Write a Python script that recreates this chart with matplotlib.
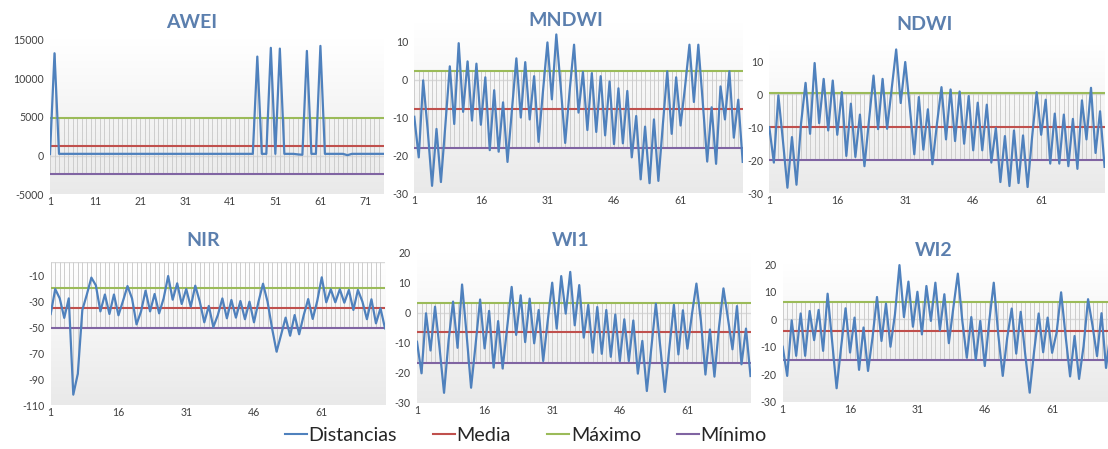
import numpy as np
import matplotlib
matplotlib.use("Agg")
import matplotlib.pyplot as plt
from matplotlib.lines import Line2D

plt.rcParams['font.family'] = ['Lato', 'DejaVu Sans']
plt.rcParams['axes.unicode_minus'] = False

W, H, DPI = 1108, 449, 100

# ---------------------------------------------------------------- data
muestras = np.arange(1, 76)

awei = [200, 13200] + [220] * 44 + [12770, 220, 220, 13900, 220, 13800, 220, 220, 220,
        150, 100, 13500, 220, 220, 14150, 220, 220, 220, 220, 220, 50, 220, 220, 220,
        220, 220, 220, 220, 220]
awei_media, awei_max, awei_min = 1250, 4900, -2360

mndwi = [-9.8, -20.5, -0.2, -13, -28, -13, -27, -12, 3.5, -11.7, 9.6, -8.5, 4.8, -10.8,
         4.2, -11.9, 0.6, -18.6, -2.8, -19, -6, -21.7, -8, 5.6, -10, 4.6, -10.5, 0.9,
         -16.4, -3, 9.8, -5.2, 11.9, -2, -16.7, -3, 9.2, -8.7, 2, -13.3, 1.7, -13.8, 0.9,
         -14.7, -0.5, -17, -2.3, -16.8, -3, -20.5, -9.6, -26.3, -12.4, -27.3, -10.5, -26.7,
         -12, 2.2, -14.3, 0.6, -12.1, -2, 9.2, -5.9, 9.2, -6, -21.6, -7.3, -22.2, -1.8,
         -10.5, 2.2, -15.3, -5.3, -21.7]
mndwi_media, mndwi_max, mndwi_min = -7.8, 2.3, -18.0

ndwi = [-10, -20.7, -0.4, -14, -28.3, -13, -27.4, -9, 3.4, -12, 9.4, -8.8, 4.6, -11, 4.1,
        -12.3, 0.6, -18.7, -2.9, -19, -6.2, -21.8, -8, 5.6, -10.6, 4.6, -10.5, 1.5, 13.5,
        -2.7, 9.7, -4, -18.2, -0.9, -16.8, -4.6, -21.2, -9, 2.1, -13.7, 1.4, -14.2, 0.8,
        -15, -0.6, -17, -2.6, -17, -3.2, -20.7, -10.3, -26.6, -12.7, -27.8, -11, -26.9,
        -12.5, -28.1, -13, 0.6, -12.3, -1.7, -21, -5.9, -21, -6.2, -21.8, -7.5, -22.6,
        -1.9, -13.7, 1.9, -17.8, -5.2, -22]
ndwi_media, ndwi_max, ndwi_min = -9.8, 0.2, -20.0

nir = [-40, -20.8, -28, -43, -28, -102, -86, -37, -25, -12, -18, -38, -25, -40, -25, -41,
       -30, -18.5, -28, -48, -38, -22, -38, -24.6, -39.5, -28, -10.8, -29, -16.4, -32.3,
       -20.8, -34.4, -18.2, -30.5, -46.4, -33.8, -50, -40.8, -28, -43.3, -29.2, -42.8, -30,
       -44, -30.5, -46.4, -30.5, -16.7, -30.5, -51, -69, -56, -42.8, -56.7, -40.8, -55.6,
       -41, -28.5, -43.8, -30, -11.8, -31, -21, -31, -21, -31.3, -21.5, -36.9, -21.5,
       -30.5, -44, -28.7, -47.2, -35.6, -51]
nir_media, nir_max, nir_min = -35.1, -19.7, -50.5

wi1 = [-9.7, -20.2, -0.2, -12.6, 2, -11.7, -26.7, -9.4, 3.7, -11.7, 9.4, -7.2, -25, -10.6,
       4.4, -11.9, 0.6, -18.3, -2.8, -18.6, -5, 8.6, -7.4, 5.8, -9.8, 4.7, -10.2, 0.9,
       -16.1, -2.8, 10, -5.3, 12.2, -0.3, 13.6, -4.2, 9.2, -8.3, 2.6, -13.3, 1.9, -13.7,
       0.9, -14.7, -0.6, -16.1, -2.2, -16.1, -2.6, -20.3, -9.4, -26.1, -11.7, 3, -11.7,
       -26.4, -11.7, 2.6, -13.9, 0.8, -12, -0.6, 9.7, -2.8, -20.6, -5.6, -21.3, -5, 8.1,
       -2, -12.2, 2.2, -17.2, -5.3, -21.1]
wi1_media, wi1_max, wi1_min = -6.4, 3.3, -16.7

wi2 = [-10, -20.6, -0.4, -13.3, 2.1, -13.3, 3, -7.6, 3.4, -11.5, 9.3, -7.9, -25.1, -10.3,
       4, -12.1, 0.6, -18.4, -3, -18.8, -6.7, 8.1, -7.9, 5.7, -10, 1.8, 19.7, 0.8, 13.7,
       -2.7, 10, -5.5, 12.1, -0.6, 13.3, -4, 9.1, -8.7, 4.2, 16.6, -0.6, -14, 0.8, -14.8,
       -0.6, -17, -0.6, 13.3, -5.5, -20.6, -6.7, 3.9, -12.5, 2.7, -12.7, -26.7, -11.5,
       2.1, -12, 0.6, -12.2, -4.8, 9.8, -6.1, -20.8, -6.1, -21.7, -9.8, 7.3, -2.4, -13.4,
       2.2, -17.7, -5, -20]
wi2_media, wi2_max, wi2_min = -4.2, 6.1, -14.8

series_labels = ['Distancias', 'Media', 'Máximo', 'Mínimo']
series_colors = ['#4f81bd', '#c0504d', '#9bbb59', '#8064a2']

# ---------------------------------------------------------------- layout
# (name, values, stats, ylim, yticks, xticks, box[l, r, top, bottom] px, title px)
panels = [
    ('AWEI', awei, (awei_media, awei_max, awei_min), (-5000, 15000),
     range(-5000, 15001, 5000), range(1, 72, 10), (50, 383.5, 39.3, 194.3), (192, 22)),
    ('MNDWI', mndwi, (mndwi_media, mndwi_max, mndwi_min), (-30, 15),
     range(-30, 11, 10), range(1, 62, 15), (414.3, 742.7, 22.7, 193.4), (566, 21)),
    ('NDWI', ndwi, (ndwi_media, ndwi_max, ndwi_min), (-30, 15),
     range(-30, 11, 10), range(1, 62, 15), (769.3, 1104.6, 44.5, 193.3), (925, 25)),
    ('NIR', nir, (nir_media, nir_max, nir_min), (-110, 0),
     range(-110, -9, 20), range(1, 62, 15), (50.7, 385, 262, 405), (203, 240)),
    ('WI1', wi1, (wi1_media, wi1_max, wi1_min), (-30, 20),
     range(-30, 21, 10), range(1, 62, 15), (417, 750.5, 252.7, 402.7), (571, 240)),
    ('WI2', wi2, (wi2_media, wi2_max, wi2_min), (-30, 20),
     range(-30, 21, 10), range(1, 62, 15), (782.7, 1115, 264.3, 401.7), (934, 250)),
]

fig = plt.figure(figsize=(W / DPI, H / DPI), dpi=DPI)
fig.patch.set_facecolor('white')

grad = np.linspace(1.0, 0.915, 256)[:, None]
grad_rgb = np.dstack([grad, grad, grad])

tick_color = '#404040'
title_color = '#5b7fae'

for name, vals, (media, vmax, vmin), ylim, yticks, xticks, box, tpos in panels:
    l, r, t, b = box
    ax = fig.add_axes([l / W, 1 - b / H, (r - l) / W, (b - t) / H])
    vals = np.asarray(vals, dtype=float)
    n = len(muestras)

    # plot-area gradient fill
    ax.imshow(grad_rgb, extent=(muestras[0], muestras[-1], ylim[0], ylim[1]),
              aspect='auto', origin='upper', zorder=0, interpolation='bilinear')

    # category axis line at zero
    ax.axhline(0, color='#d9d9d9', lw=1.0, zorder=1)

    # drop lines from every series point to the axis
    stack = np.vstack([vals, np.full(n, media), np.full(n, vmax), np.full(n, vmin), np.zeros(n)])
    ax.vlines(muestras, stack.min(axis=0), stack.max(axis=0), color='#cdcdcd', lw=0.7, zorder=1)

    ax.plot(muestras, vals, color=series_colors[0], lw=1.6, zorder=4)
    ax.plot(muestras, np.full(n, media), color=series_colors[1], lw=1.5, zorder=3)
    ax.plot(muestras, np.full(n, vmax), color=series_colors[2], lw=1.5, zorder=3)
    ax.plot(muestras, np.full(n, vmin), color=series_colors[3], lw=1.5, zorder=3)

    ax.set_xlim(muestras[0], muestras[-1])
    ax.set_ylim(*ylim)
    ax.set_xticks(list(xticks))
    ax.set_yticks(list(yticks))
    ax.tick_params(axis='both', length=0, labelsize=7.6, colors=tick_color)
    ax.tick_params(axis='x', pad=1.5)
    ax.tick_params(axis='y', pad=4.5)
    for s in ax.spines.values():
        s.set_visible(False)

    fig.text(tpos[0] / W, 1 - tpos[1] / H, name, ha='center', va='center',
             fontsize=14, fontweight='bold', color=title_color)

handles = [Line2D([0], [0], color=c, lw=1.5) for c in series_colors]
fig.legend(handles, series_labels, loc='center', bbox_to_anchor=(526 / W, 1 - 435.5 / H),
           ncol=4, frameon=False, fontsize=14.2, handlelength=1.1, handletextpad=0.08,
           columnspacing=1.85, labelcolor='#262626')

fig.savefig('out.png', dpi=DPI)
